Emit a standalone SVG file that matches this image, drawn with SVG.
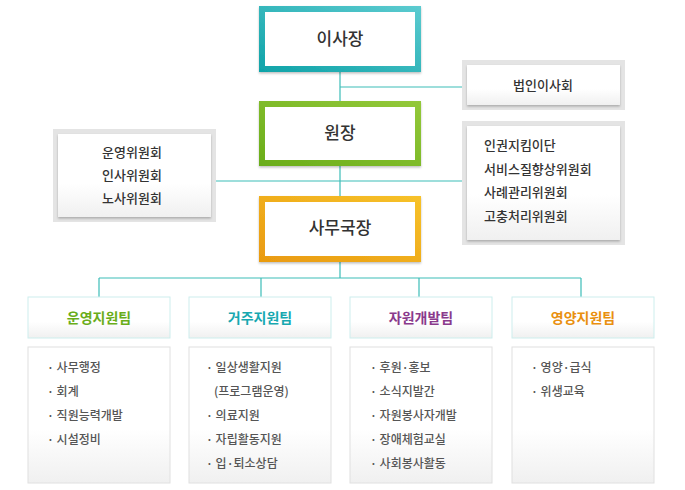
<svg xmlns="http://www.w3.org/2000/svg" width="685" height="490" viewBox="0 0 685 490">
<defs>
<linearGradient id="gT" x1="0" y1="1" x2="1" y2="0"><stop offset="0" stop-color="#0fa3a8"/><stop offset="1" stop-color="#5ccbd0"/></linearGradient>
<linearGradient id="gG" x1="0" y1="1" x2="1" y2="0"><stop offset="0" stop-color="#6aad1a"/><stop offset="1" stop-color="#94c93a"/></linearGradient>
<linearGradient id="gO" x1="0" y1="1" x2="1" y2="0"><stop offset="0" stop-color="#e99a10"/><stop offset="1" stop-color="#f7c22a"/></linearGradient>
<linearGradient id="gW" x1="0" y1="0" x2="0" y2="1"><stop offset="0" stop-color="#ffffff"/><stop offset="0.6" stop-color="#ffffff"/><stop offset="1" stop-color="#f0f0f0"/></linearGradient>
<filter id="sh" x="-10%" y="-10%" width="120%" height="130%"><feDropShadow dx="0" dy="1.5" stdDeviation="1.2" flood-color="#000" flood-opacity="0.25"/></filter>
</defs>
<style>
text{font-family:"Noto Sans CJK KR","Noto Sans",sans-serif;}
.main{font-size:17px;fill:#333;text-anchor:middle;font-weight:500}
.c{font-size:13px;fill:#333;font-weight:500}
.l{font-size:12px;fill:#555;font-weight:500}
.h{font-size:14px;font-weight:bold;text-anchor:middle}
.ln{stroke:#3cbdb8;stroke-width:1.2;fill:none}
.gray{fill:#e4e4e4}
.team{fill:url(#gW);stroke:#cdeeed;stroke-width:1}
.list{fill:url(#gW);stroke:#e0e0e0;stroke-width:1}
</style>
<g id="connectors">
<path class="ln" d="M340 72V196M340 87H462M216 181H462M340 262V278M99 278H581M99 278V297M261 278V297M419 278V297M581 278V297"/>
</g>
<g id="chairman"><rect x="259" y="6" width="162" height="66" fill="url(#gT)" filter="url(#sh)"/><rect x="265" y="12" width="150" height="54" fill="#fff"/><text class="main" x="340" y="45">이사장</text></g>
<g id="director"><rect x="259" y="101" width="162" height="65" fill="url(#gG)" filter="url(#sh)"/><rect x="265" y="107" width="150" height="53" fill="#fff"/><text class="main" x="340" y="139">원장</text></g>
<g id="secretary"><rect x="259" y="196" width="162" height="66" fill="url(#gO)" filter="url(#sh)"/><rect x="265" y="202" width="150" height="54" fill="#fff"/><text class="main" x="340" y="234">사무국장</text></g>
<g id="board"><rect class="gray" x="462" y="60" width="163" height="50"/><rect x="467" y="65" width="153" height="40" fill="url(#gW)" filter="url(#sh)"/><text class="c" x="543" y="90" text-anchor="middle">법인이사회</text></g>
<g id="leftcomm"><rect class="gray" x="53" y="129" width="163" height="93"/><rect x="58" y="134" width="153" height="83" fill="url(#gW)" filter="url(#sh)"/>
<text class="c" x="132" y="157" text-anchor="middle">운영위원회</text><text class="c" x="132" y="180" text-anchor="middle">인사위원회</text><text class="c" x="132" y="203" text-anchor="middle">노사위원회</text></g>
<g id="rightcomm"><rect class="gray" x="462" y="121" width="163" height="124"/><rect x="467" y="126" width="153" height="114" fill="url(#gW)" filter="url(#sh)"/>
<text class="c" x="484" y="150">인권지킴이단</text><text class="c" x="484" y="174">서비스질향상위원회</text><text class="c" x="484" y="197">사례관리위원회</text><text class="c" x="484" y="221">고충처리위원회</text></g>
<g id="team1"><rect class="team" x="28" y="297" width="142" height="41"/><text class="h" x="99" y="323" fill="#6aad1a">운영지원팀</text>
<rect class="list" x="28" y="347" width="142" height="136"/>
<text class="l" x="47" y="372">· 사무행정</text><text class="l" x="47" y="396">· 회계</text><text class="l" x="47" y="420">· 직원능력개발</text><text class="l" x="47" y="444">· 시설정비</text></g>
<g id="team2"><rect class="team" x="189" y="297" width="142" height="41"/><text class="h" x="260" y="323" fill="#17a8b0">거주지원팀</text>
<rect class="list" x="189" y="347" width="142" height="136"/>
<text class="l" x="206" y="372">· 일상생활지원</text><text class="l" x="214" y="396">(프로그램운영)</text><text class="l" x="206" y="420">· 의료지원</text><text class="l" x="206" y="444">· 자립활동지원</text><text class="l" x="206" y="468">· 입·퇴소상담</text></g>
<g id="team3"><rect class="team" x="350" y="297" width="142" height="41"/><text class="h" x="421" y="323" fill="#8a3a8c">자원개발팀</text>
<rect class="list" x="350" y="347" width="142" height="136"/>
<text class="l" x="370" y="372">· 후원·홍보</text><text class="l" x="370" y="396">· 소식지발간</text><text class="l" x="370" y="420">· 자원봉사자개발</text><text class="l" x="370" y="444">· 장애체험교실</text><text class="l" x="370" y="468">· 사회봉사활동</text></g>
<g id="team4"><rect class="team" x="512" y="297" width="142" height="41"/><text class="h" x="583" y="323" fill="#e9900f">영양지원팀</text>
<rect class="list" x="512" y="347" width="142" height="136"/>
<text class="l" x="531" y="372">· 영양·급식</text><text class="l" x="531" y="396">· 위생교육</text></g>
</svg>
